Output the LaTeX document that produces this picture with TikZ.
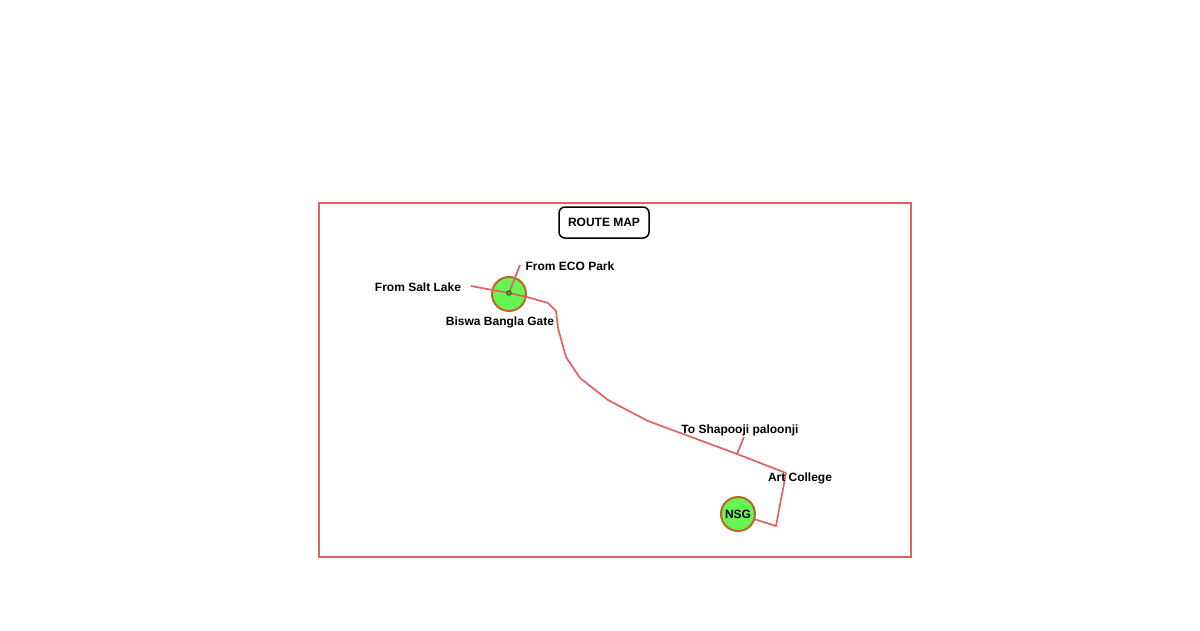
\documentclass[tikz,border=0pt]{standalone}
\usepackage{fontspec}
\setmainfont{Liberation Sans}
\definecolor{routered}{RGB}{226,96,96}
\definecolor{stopgreen}{RGB}{102,245,85}
\definecolor{stopedge}{RGB}{190,100,45}
\tikzset{
  route/.style={draw=routered, line width=1.7pt, line join=round},
  stop/.style={circle, fill=stopgreen, draw=stopedge, line width=2pt, minimum size=34pt, inner sep=0pt},
  place/.style={font=\fontsize{12}{14}\selectfont\bfseries, inner sep=0pt}
}
\begin{document}
\begin{tikzpicture}[x=1pt,y=-1pt]
				\useasboundingbox (0,0) rectangle (1200,630);
				\draw [routered, line width=1.5pt] (319,203) rectangle (911,557);
				\node [draw, rounded corners=6pt, line width=1.5pt, minimum width=90pt, minimum height=31pt, place] (title) at (604,222.5) {ROUTE MAP};
				% stops
				\node [stop] (bbg) at (509,294) {};
				\node [stop, place, minimum size=34pt] (nsg) at (738,514) {NSG};
				% bends of the route
				\coordinate (saltlake) at (471,286);
				\coordinate (eco) at (520,265);
				\coordinate (hub) at (509,293);
				\coordinate (b1) at (527,297);
				\coordinate (b2) at (548,303);
				\coordinate (b3) at (556,311);
				\coordinate (b4) at (558,328);
				\coordinate (b5) at (566,357);
				\coordinate (b6) at (580,378);
				\coordinate (b7) at (608,400);
				\coordinate (b8) at (648,421);
				\coordinate (shap) at (737,454);
				\coordinate (shapend) at (744,437);
				\coordinate (art) at (786,473);
				\coordinate (c1) at (776,526);
				\draw [route] (saltlake) -- (hub) -- (b1);
				\draw [route] (hub) -- (eco);
				\draw [route] (b1) -- (b2) -- (b3) -- (b4) -- (b5) -- (b6) -- (b7) -- (b8) -- (shap) -- (art);
				\draw [route] (shap) -- (shapend);
				\draw [route] (art) -- (c1) -- (nsg);
				\draw [green!45!black, line width=1pt] (hub) circle (2.2);
				% labels
				\node [place] (lsalt) at (418,287) {From Salt Lake};
				\node [place] (leco) at (570,266) {From ECO Park};
				\node [place] (lbbg) at (500,322) {Biswa Bangla Gate};
				\node [place] (lshap) at (740,430) {To Shapooji paloonji};
				\node [place] (lart) at (800,478) {Art College};
			\end{tikzpicture}
\end{document}
